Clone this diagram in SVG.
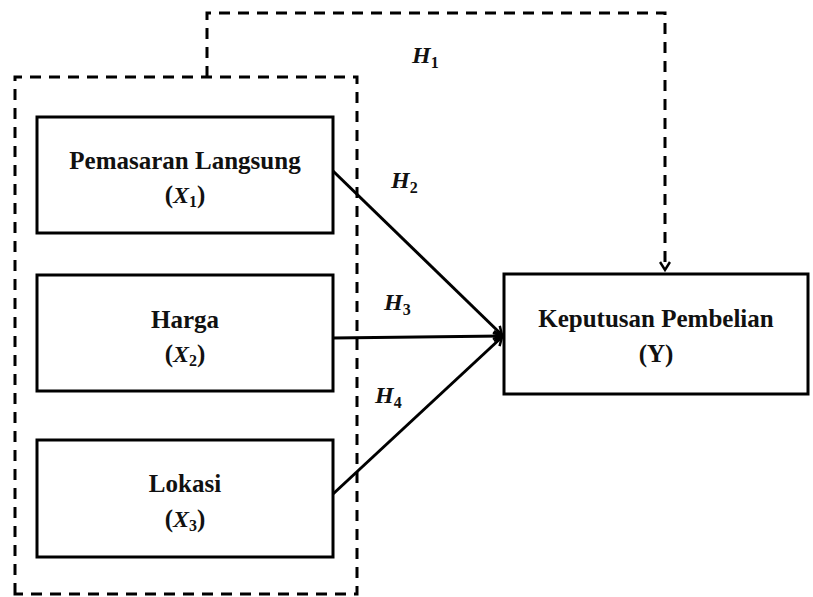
<svg xmlns="http://www.w3.org/2000/svg" width="813" height="597" viewBox="0 0 813 597">
<style>
.box{fill:#fff;stroke:#000;stroke-width:3}
.dash{fill:none;stroke:#000;stroke-width:3;stroke-dasharray:11 8}
.t{font-family:"Liberation Serif",serif;font-weight:bold;font-size:25px;text-anchor:middle;fill:#111}
.m{font-family:"Liberation Serif",serif;font-style:italic;font-weight:bold;font-size:24px;fill:#111}
.s{font-size:16px;font-style:normal}
.c{fill:none;stroke:#000;stroke-width:3}
</style>
<defs>
<marker id="ah" markerWidth="12" markerHeight="12" refX="9" refY="6" orient="auto" markerUnits="userSpaceOnUse">
<path d="M1,1 L9,6 L1,11" fill="none" stroke="#000" stroke-width="2.5"/>
</marker>
</defs>
<g id="group-box"><path class="dash" d="M15,594 L15,77 L357,77 L357,594 Z"/></g>
<g id="n1"><rect class="box" x="37" y="117" width="296" height="116"/>
<text class="t" x="185" y="169">Pemasaran Langsung</text>
<text class="t" x="185" y="203">(<tspan class="m">X<tspan class="s" dy="4">1</tspan></tspan><tspan dy="-4">)</tspan></text></g>
<g id="n2"><rect class="box" x="37" y="275" width="296" height="116"/>
<text class="t" x="185" y="328">Harga</text>
<text class="t" x="185" y="362">(<tspan class="m">X<tspan class="s" dy="4">2</tspan></tspan><tspan dy="-4">)</tspan></text></g>
<g id="n3"><rect class="box" x="37" y="440" width="296" height="117"/>
<text class="t" x="185" y="492">Lokasi</text>
<text class="t" x="185" y="527">(<tspan class="m">X<tspan class="s" dy="4">3</tspan></tspan><tspan dy="-4">)</tspan></text></g>
<g id="ny"><rect class="box" x="504" y="274" width="304" height="120"/>
<text class="t" x="656" y="327">Keputusan Pembelian</text>
<text class="t" x="656" y="362">(Y)</text></g>
<g id="connectors">
<path class="dash" d="M207,77 L207,13 L665,13 L665,270" marker-end="url(#ah)"/>
<line class="c" x1="333" y1="171" x2="502" y2="335" marker-end="url(#ah)"/>
<line class="c" x1="333" y1="338" x2="502" y2="336" marker-end="url(#ah)"/>
<line class="c" x1="333" y1="494" x2="502" y2="337" marker-end="url(#ah)"/>
</g>
<g id="labels">
<text class="m" x="412" y="63">H<tspan class="s" dy="5">1</tspan></text>
<text class="m" x="391" y="188">H<tspan class="s" dy="5">2</tspan></text>
<text class="m" x="384" y="310">H<tspan class="s" dy="5">3</tspan></text>
<text class="m" x="375" y="403">H<tspan class="s" dy="5">4</tspan></text>
</g>
</svg>
